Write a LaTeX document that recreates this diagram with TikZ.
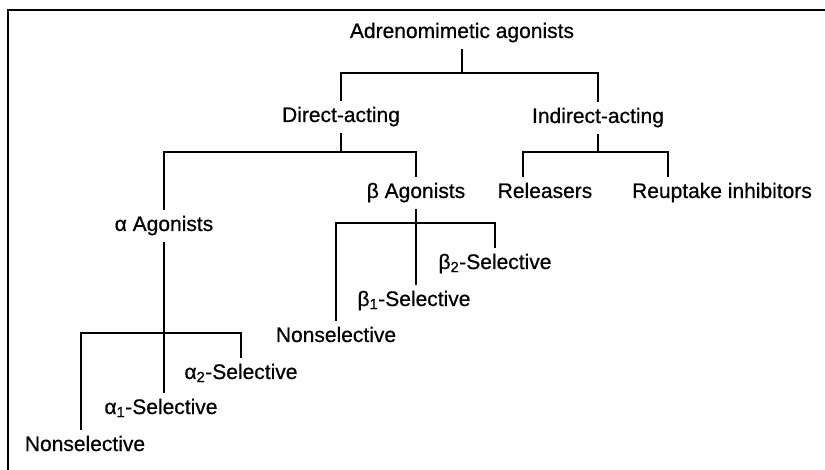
\documentclass[tikz,border=0pt]{standalone}
\usepackage{fontspec}
\setmainfont{Liberation Sans}[FakeBold=0.6]
\usepackage{tikz}
\usetikzlibrary{positioning}

\begin{document}
\begin{tikzpicture}[
    x=1pt, y=-1pt,
    term/.style={font=\fontsize{21}{25}\selectfont, inner xsep=0pt, inner ysep=0pt, text height=15pt, text depth=5pt, minimum height=32pt},
    branch/.style={line width=1.1pt, black},
    frame/.style={line width=2pt, black}
]
    \useasboundingbox (0,0) rectangle (825,470);
    \draw[frame] (8,471) |- (826,10);

    % Nodes - top rows
    \node[term] (root) at (462,33) {Adrenomimetic agonists};
    \node[term] (direct) at (341,117) {Direct-acting};
    \node[term] (indirect) at (598,118) {Indirect-acting};

    % Nodes - agonist classes
    \node[term] (alpha) at (164,226) {α Agonists};
    \node[term] (beta) at (416,193) {β Agonists};
    \node[term] (rel) at (545,193) {Releasers};
    \node[term] (reup) at (722,193) {Reuptake inhibitors};

    % Nodes - selectivity
    \node[term] (anon) at (85,446) {Nonselective};
    \node[term] (aone) at (161,409) {α\textsubscript{1}-Selective};
    \node[term] (atwo) at (241,374) {α\textsubscript{2}-Selective};
    \node[term] (bnon) at (336,337) {Nonselective};
    \node[term] (bone) at (414,301) {β\textsubscript{1}-Selective};
    \node[term] (btwo) at (495,264) {β\textsubscript{2}-Selective};

    % Junctions
    \coordinate (rj) at (462,73);
    \coordinate (dj) at (341,152);
    \coordinate (ij) at (598,152);
    \coordinate (bj) at (416,223);
    \coordinate (aj) at (164,333);

    % Branches
    \draw[branch] (root.south) -- (rj);
    \draw[branch] (direct.north) |- (rj) -| (indirect.north);
    \draw[branch] (direct.south) -- (dj);
    \draw[branch] (alpha.north) |- (dj) -| (beta.north);
    \draw[branch] (indirect.south) -- (ij);
    \draw[branch] ([xshift=-22pt]rel.north) |- (ij) -| ([xshift=-54pt]reup.north);
    \draw[branch] (beta.south) -- (beta.south |- bone.north);
    \draw[branch] (bnon.north) |- (bj) -| (btwo.north);
    \draw[branch] (alpha.south) -- (alpha.south |- aone.north);
    \draw[branch] ([xshift=-4pt]anon.north) |- (aj) -| (atwo.north);
\end{tikzpicture}
\end{document}
